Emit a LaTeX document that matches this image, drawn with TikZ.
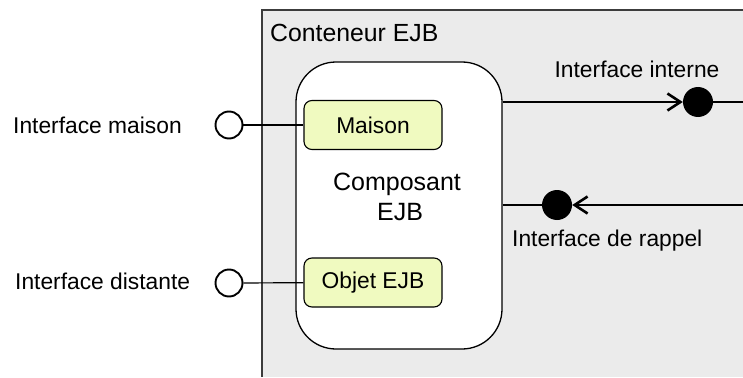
\documentclass[tikz,border=0pt]{standalone}
\usepackage{fontspec}
\setmainfont{Liberation Sans}
\usetikzlibrary{arrows.meta}
\definecolor{contfill}{RGB}{235,235,235}
\definecolor{contline}{RGB}{60,60,60}
\definecolor{boxfill}{RGB}{240,250,192}
\tikzset{
  lbl/.style={inner sep=0pt, font=\fontsize{22.8}{27}\selectfont},
  bigtxt/.style={inner sep=0pt, align=center, font=\fontsize{25}{30}\selectfont},
  comp/.style={draw=black, line width=1.3pt, fill=white, rounded corners=40pt, minimum width=206pt, minimum height=287pt, inner sep=0pt},
  classbox/.style={draw=black, line width=1.1pt, fill=boxfill, rounded corners=8pt, minimum width=138pt, minimum height=49pt, inner sep=0pt, font=\fontsize{22.8}{27}\selectfont},
  port/.style={circle, draw=black, line width=1.9pt, fill=white, minimum size=27pt, inner sep=0pt},
  jack/.style={circle, fill=black, minimum size=30pt, inner sep=0pt},
  thin/.style={line width=1.2pt, black},
  thickarr/.style={line width=2.6pt, black, -{Straight Barb[length=13pt,width=17pt,line width=2.6pt]}}
}
\begin{document}
\begin{tikzpicture}[x=1pt,y=-1pt]
\useasboundingbox (0,0) rectangle (743,377);
\fill[contfill] (262,10) rectangle (743,377);
\draw[line width=1.4pt, contline] (262,377) -- (262,10) -- (743,10);
\node[lbl, anchor=west] (cont) at (270,33) {\fontsize{24.8}{29}\selectfont Conteneur EJB};
\node[comp] (comp) at (399,205.5) {};
\node[bigtxt] (comptxt) at (397,197) {Composant\\\hspace*{6pt}EJB};
\node[classbox] (maison) at (373,125) {Maison};
\node[classbox] (objet) at (373,282.5) {Objet EJB};
\node[port] (pm) at (229,125) {};
\node[port] (pd) at (229,283) {};
\node[lbl, anchor=west] (lm) at (13,125) {Interface maison};
\node[lbl, anchor=west] (ld) at (15,281) {Interface distante};
\draw[thin] (pm) -- (maison);
\draw[thin] (pd) -- (objet);
\node[jack] (ji) at (698,102) {};
\node[jack] (jr) at (557,205) {};
\coordinate (ri) at (743,102);
\coordinate (rr) at (743,205);
\node[lbl] (li) at (637,69) {Interface interne};
\node[lbl, anchor=west] (lr) at (512,241) {Interface de rappel};
\draw[thickarr] (comp.east |- ji) -- (ji);
\draw[thin] (ji) -- (ri);
\draw[thin] (comp.east |- jr) -- (jr);
\draw[thickarr] (rr) -- (jr);
\end{tikzpicture}
\end{document}
